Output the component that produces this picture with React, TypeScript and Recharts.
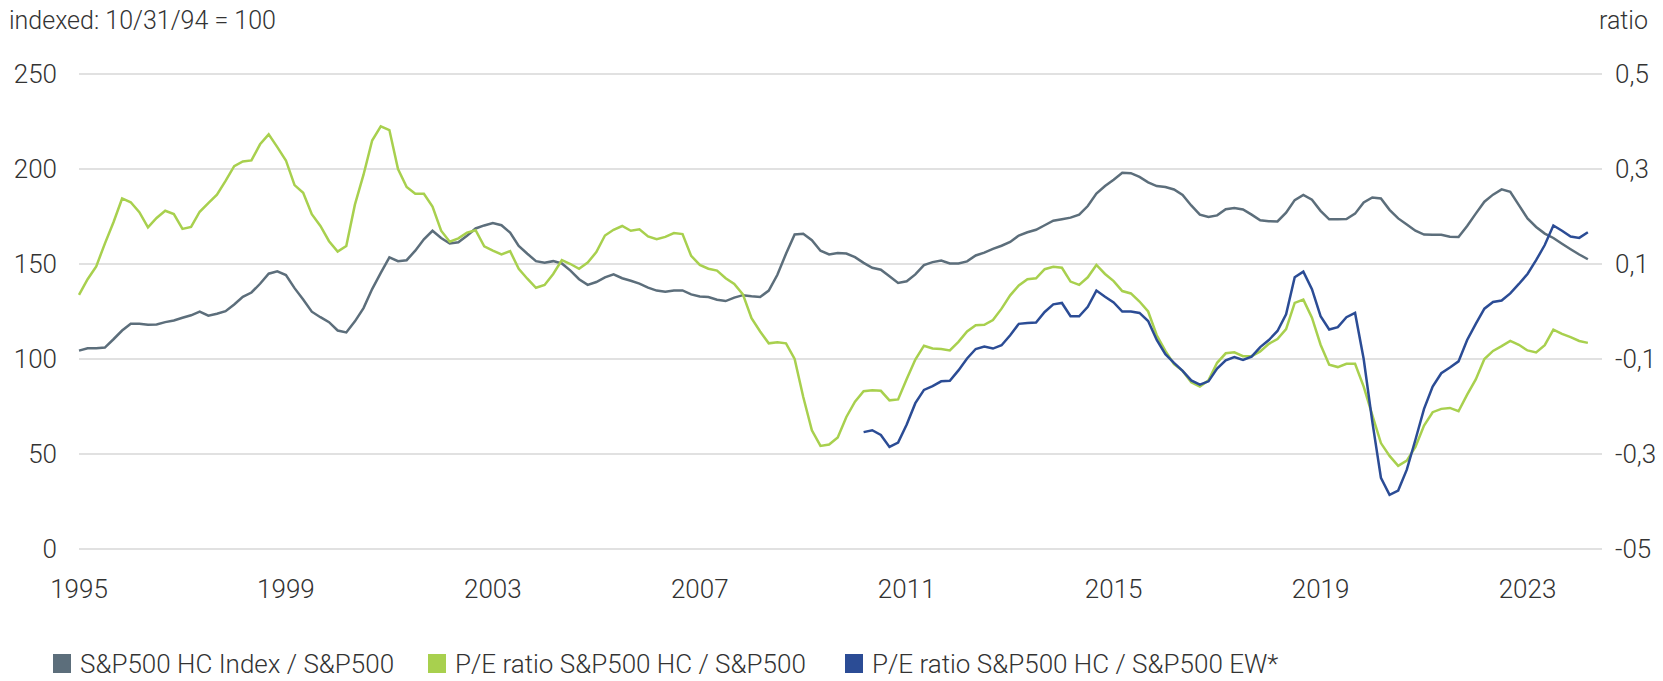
import { LineChart, Line, XAxis, YAxis, CartesianGrid } from 'recharts';

// bimonthly samples, Jan 1995 .. Mar 2024
const hcIndex = [
  104.4, 105.6, 105.6, 106, 110.4, 115, 118.6, 118.6, 118, 118.2,
  119.4, 120.3, 121.7, 123, 124.9, 122.8, 123.8, 125.2, 128.7, 132.7,
  135, 139.6, 144.9, 146.1, 144.2, 137.3, 131.3, 124.9, 122, 119.4,
  115, 114, 119.8, 126.8, 136.8, 145.3, 153.5, 151.5, 152, 157,
  163, 167.5, 163.7, 160.8, 161.4, 164.9, 168.7, 170.3, 171.6, 170.4,
  166.5, 159.5, 155.4, 151.5, 150.7, 151.5, 150.3, 146.5, 142, 139,
  140.5, 143, 144.6, 142.5, 141.2, 139.7, 137.6, 136, 135.4, 136,
  136.1, 134, 132.9, 132.6, 131.2, 130.5, 132.3, 133.6, 133, 132.6,
  136, 144.3, 155.4, 165.5, 165.9, 162.5, 157, 155, 155.8, 155.5,
  153.6, 150.6, 148, 147, 143.5, 140, 140.9, 144.5, 149.4, 151,
  151.8, 150.3, 150.3, 151.4, 154.5, 156, 158, 159.6, 161.6, 165,
  166.7, 168, 170.4, 172.8, 173.6, 174.4, 176, 180.5, 187.1, 191,
  194.4, 198, 197.8, 195.8, 193, 191, 190.5, 189.2, 186.3, 180.8,
  176, 174.7, 175.6, 178.8, 179.5, 178.7, 176, 173, 172.5, 172.4,
  177, 183.6, 186.3, 183.8, 178, 173.5, 173.5, 173.7, 176.5, 182.4,
  185, 184.5, 178.5, 174, 170.8, 167.5, 165.5, 165.4, 165.4, 164.3,
  164.2, 170, 176.5, 182.8, 186.5, 189.3, 188, 181, 174, 169.5,
  166, 163.7, 160.7, 157.8, 155, 152.5,
];

const peHc = [
  0.035, 0.068, 0.095, 0.143, 0.188, 0.238, 0.23, 0.209, 0.177, 0.197,
  0.212, 0.205, 0.174, 0.178, 0.21, 0.228, 0.246, 0.275, 0.306, 0.316,
  0.318, 0.352, 0.373, 0.346, 0.318, 0.266, 0.25, 0.205, 0.18, 0.148,
  0.126, 0.138, 0.225, 0.288, 0.36, 0.39, 0.382, 0.3, 0.262, 0.248,
  0.248, 0.221, 0.17, 0.147, 0.154, 0.166, 0.171, 0.137, 0.128, 0.12,
  0.127, 0.09, 0.069, 0.05, 0.056, 0.079, 0.108, 0.1, 0.09, 0.103,
  0.125, 0.16, 0.172, 0.18, 0.17, 0.173, 0.158, 0.152, 0.157, 0.165,
  0.163, 0.117, 0.098, 0.09, 0.086, 0.07, 0.058, 0.036, -0.014, -0.042,
  -0.067, -0.065, -0.067, -0.1, -0.18, -0.25, -0.283, -0.28, -0.265, -0.222,
  -0.19, -0.168, -0.166, -0.167, -0.187, -0.185, -0.142, -0.101, -0.072, -0.078,
  -0.079, -0.082, -0.064, -0.042, -0.029, -0.028, -0.018, 0.006, 0.034, 0.055,
  0.068, 0.07, 0.089, 0.094, 0.092, 0.063, 0.056, 0.072, 0.098, 0.079,
  0.064, 0.043, 0.038, 0.021, 0, -0.05, -0.083, -0.111, -0.125, -0.149,
  -0.158, -0.145, -0.108, -0.088, -0.086, -0.094, -0.094, -0.084, -0.068, -0.058,
  -0.037, 0.018, 0.025, -0.013, -0.07, -0.112, -0.117, -0.11, -0.11, -0.158,
  -0.218, -0.277, -0.304, -0.325, -0.314, -0.285, -0.24, -0.212, -0.205, -0.203,
  -0.21, -0.175, -0.143, -0.1, -0.083, -0.073, -0.062, -0.07, -0.082, -0.086,
  -0.071, -0.038, -0.047, -0.054, -0.062, -0.066,
];

// equal-weight series starts in 2010
const peEwStart = 91;
const peEw = [
  -0.254, -0.25, -0.26, -0.285, -0.276, -0.238, -0.193, -0.165, -0.157,
  -0.147, -0.146, -0.124, -0.099, -0.079, -0.074, -0.078, -0.071, -0.05, -0.026,
  -0.024, -0.023, -0.001, 0.015, 0.018, -0.01, -0.01, 0.01, 0.044, 0.031,
  0.019, 0, 0, -0.003, -0.02, -0.06, -0.09, -0.108, -0.125, -0.145,
  -0.154, -0.147, -0.12, -0.103, -0.096, -0.102, -0.095, -0.075, -0.06, -0.041,
  -0.006, 0.072, 0.084, 0.047, -0.01, -0.038, -0.033, -0.012, -0.003, -0.1,
  -0.232, -0.35, -0.386, -0.377, -0.333, -0.27, -0.205, -0.158, -0.13, -0.118,
  -0.105, -0.06, -0.026, 0.006, 0.02, 0.023, 0.038, 0.058, 0.079, 0.108,
  0.14, 0.181, 0.17, 0.158, 0.155, 0.167,
];

const yearTicks = [1995, 1999, 2003, 2007, 2011, 2015, 2019, 2023];
const leftTicks = [0, 50, 100, 150, 200, 250];
const rightTicks = [-0.5, -0.3, -0.1, 0.1, 0.3, 0.5];

const series = [
  { key: 'hc', name: 'S&P500 HC Index / S&P500', color: '#5c6e7b', axis: 'left' },
  { key: 'pe', name: 'P/E ratio S&P500 HC / S&P500', color: '#a8d04e', axis: 'right' },
  { key: 'peEw', name: 'P/E ratio S&P500 HC / S&P500 EW*', color: '#2b4c95', axis: 'right' },
];

const data = hcIndex.map((v, i) => ({
  date: 1995 + i / 6,
  hc: v,
  pe: peHc[i],
  peEw: i >= peEwStart ? peEw[i - peEwStart] : null,
}));

const FONT = 'Roboto, "Liberation Sans", Arial, sans-serif';
const TEXT = '#333333';
const FS = 26;
const tickStyle = { fill: TEXT, fontSize: FS, fontFamily: FONT, fontWeight: 300 };

const formatRatio = (v: number) =>
  v === -0.5 ? '-05' : v.toFixed(1).replace('.', ',');

const legendX = [53, 428, 845];

export default function App() {
  return (
    <div style={{ position: 'absolute', left: 0, top: 0, width: 1663, height: 681, background: '#fff' }}>
      <LineChart
        width={1663}
        height={681}
        data={data}
        margin={{ top: 74, right: 0, bottom: 92, left: 0 }}
      >
        <CartesianGrid yAxisId="left" vertical={false} stroke="#c4c4c4" strokeWidth={1.2} />
        <XAxis
          dataKey="date"
          type="number"
          domain={[1995, 2024.44]}
          ticks={yearTicks}
          allowDecimals={false}
          axisLine={false}
          tickLine={false}
          tickSize={0}
          tickMargin={31}
          height={40}
          tick={tickStyle}
        />
        <YAxis
          yAxisId="left"
          domain={[0, 250]}
          ticks={leftTicks}
          axisLine={false}
          tickLine={false}
          tickSize={0}
          tickMargin={22}
          width={79}
          tick={tickStyle}
        />
        <YAxis
          yAxisId="right"
          orientation="right"
          domain={[-0.5, 0.5]}
          ticks={rightTicks}
          tickFormatter={formatRatio}
          axisLine={false}
          tickLine={false}
          tickSize={0}
          tickMargin={13}
          width={61}
          tick={tickStyle}
        />
        {series.map((s) => (
          <Line
            key={s.key}
            yAxisId={s.axis}
            dataKey={s.key}
            name={s.name}
            type="linear"
            stroke={s.color}
            strokeWidth={2.5}
            dot={false}
            activeDot={false}
            isAnimationActive={false}
          />
        ))}
      </LineChart>
      <svg
        width={1663}
        height={681}
        style={{ position: 'absolute', left: 0, top: 0, pointerEvents: 'none' }}
      >
        <text x={9} y={29} fill={TEXT} fontSize={25} fontFamily={FONT} fontWeight={300}>
          indexed: 10/31/94 = 100
        </text>
        <text x={1648} y={29} fill={TEXT} fontSize={25} fontFamily={FONT} fontWeight={300} textAnchor="end">
          ratio
        </text>
        {series.map((s, i) => (
          <g key={s.key}>
            <rect x={legendX[i]} y={654} width={18} height={19} fill={s.color} />
            <text x={legendX[i] + 27} y={673} fill={TEXT} fontSize={FS} fontFamily={FONT} fontWeight={300}>
              {s.name}
            </text>
          </g>
        ))}
      </svg>
    </div>
  );
}
